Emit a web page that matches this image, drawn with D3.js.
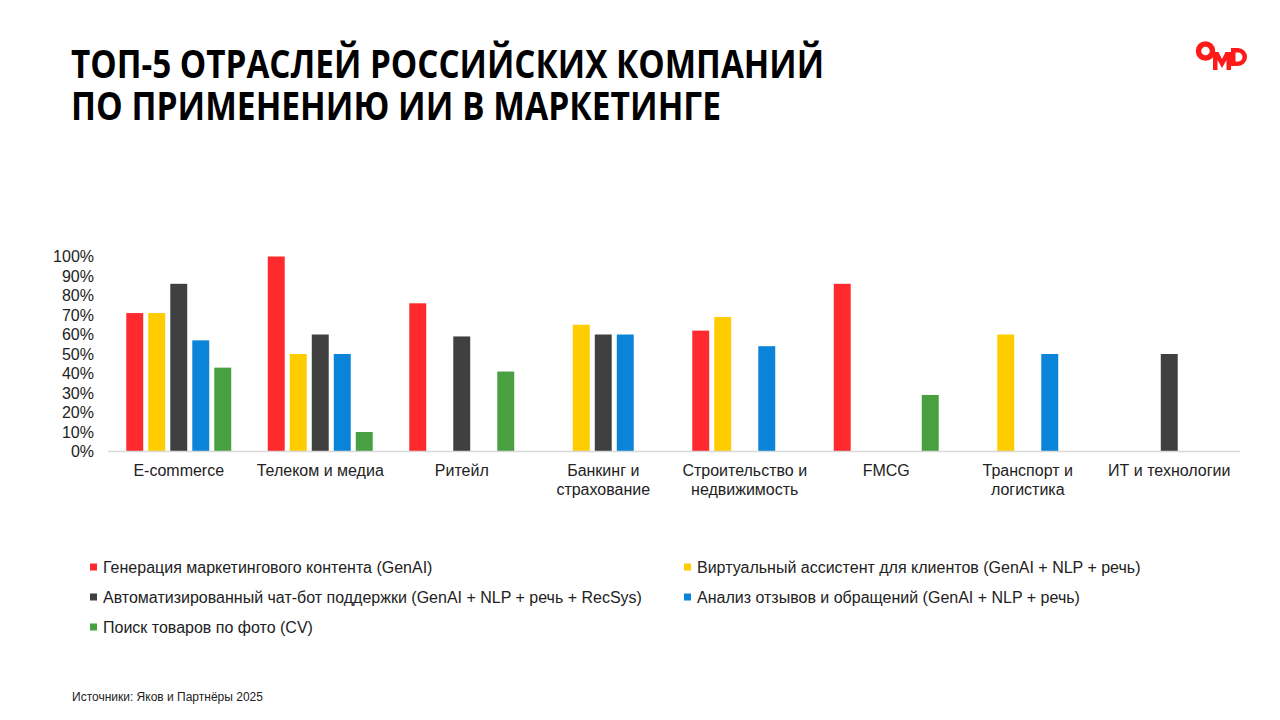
<!DOCTYPE html>
<html>
<head>
<meta charset="utf-8">
<script src="https://cdn.jsdelivr.net/npm/d3@7"></script>
<style>
  body { margin: 0; background: #fff; }
  svg { display: block; font-family: "Liberation Sans", Arial, sans-serif; }
</style>
</head>
<body>
<svg id="chart" width="1280" height="720"></svg>
<script>
var categories = ['E-commerce', 'Телеком и медиа', 'Ритейл', 'Банкинг и|страхование',
    'Строительство и|недвижимость', 'FMCG', 'Транспорт и|логистика', 'ИТ и технологии'];

var seriesNames = [
    'Генерация маркетингового контента (GenAI)',
    'Виртуальный ассистент для клиентов (GenAI + NLP + речь)',
    'Автоматизированный чат-бот поддержки (GenAI + NLP + речь + RecSys)',
    'Анализ отзывов и обращений (GenAI + NLP + речь)',
    'Поиск товаров по фото (CV)'
];
var colors = ['#ff2a2d', '#ffcc00', '#404040', '#0984d8', '#48a040'];

// values in %, null = no bar
var genContent = [71, 100, 76, null, 62, 86, null, null];
var virtAssist = [71, 50, null, 65, 69, null, 60, null];
var chatBot    = [86, 60, 59, 60, null, null, null, 50];
var reviews    = [57, 50, null, 60, 54, null, 50, null];
var photoSearch = [43, 10, 41, null, null, 29, null, null];

var yTicks = [0, 10, 20, 30, 40, 50, 60, 70, 80, 90, 100];

var values = [genContent, virtAssist, chatBot, reviews, photoSearch];

var svg = d3.select('#chart');

// title (one text, two lines)
var title = svg.append('text')
    .attr('font-family', '"Open Sans", "Noto Sans", sans-serif')
    .attr('font-weight', 700)
    .attr('font-size', 40)
    .attr('fill', '#000');
title.append('tspan').attr('x', 71).attr('y', 78)
    .attr('textLength', 753).attr('lengthAdjust', 'spacingAndGlyphs')
    .text('ТОП-5 ОТРАСЛЕЙ РОССИЙСКИХ КОМПАНИЙ');
title.append('tspan').attr('x', 71).attr('y', 120)
    .attr('textLength', 650).attr('lengthAdjust', 'spacingAndGlyphs')
    .text('ПО ПРИМЕНЕНИЮ ИИ В МАРКЕТИНГЕ');

// logo
var logo = svg.append('g').attr('fill', '#ff1a1a');
logo.append('circle').attr('cx', 1205.5).attr('cy', 51).attr('r', 7)
    .attr('fill', 'none').attr('stroke', '#ff1a1a').attr('stroke-width', 5.5);
logo.append('path')
    .attr('d', 'M1213,70V52h5.5l3.5,7l3.5,-7h5.5v18h-4.5v-10l-4.5,8l-4.5,-8v10z');
logo.append('path')
    .attr('fill-rule', 'evenodd')
    .attr('d', 'M1231,48h7a9,9 0 0 1 0,18h-7z M1235.5,52.5v9h2.5a4.5,4.5 0 0 0 0,-9z');

// scales
var x0 = d3.scaleBand().domain(categories).range([108, 1240]);
var x1 = d3.scaleBand().domain(d3.range(seriesNames.length))
    .range([0, x0.bandwidth()])
    .paddingInner(0.23)
    .paddingOuter(0.83);
var y = d3.scaleLinear().domain([0, 100]).range([451.5, 256.5]);

// bars
var groups = svg.append('g').selectAll('g')
    .data(categories)
    .enter().append('g')
    .attr('transform', function (d) { return 'translate(' + x0(d) + ',0)'; });

groups.selectAll('rect')
    .data(function (d, i) {
        return values.map(function (s, k) { return { k: k, v: s[i] }; })
            .filter(function (e) { return e.v != null; });
    })
    .enter().append('rect')
    .attr('x', function (d) { return x1(d.k); })
    .attr('y', function (d) { return y(d.v); })
    .attr('width', x1.bandwidth())
    .attr('height', function (d) { return y(0) - y(d.v); })
    .attr('fill', function (d) { return colors[d.k]; });

// y axis
var yAxis = svg.append('g')
    .attr('transform', 'translate(94,0)')
    .call(d3.axisLeft(y).tickValues(yTicks).tickSize(0).tickPadding(0)
        .tickFormat(function (d) { return d + '%'; }));
yAxis.select('.domain').remove();
yAxis.selectAll('text')
    .attr('font-family', '"Liberation Sans", Arial, sans-serif')
    .attr('font-size', 16)
    .attr('fill', '#222');

// baseline
svg.append('line')
    .attr('x1', 108).attr('x2', 1240)
    .attr('y1', y(0)).attr('y2', y(0))
    .attr('stroke', '#d9d9d9').attr('stroke-width', 1.5);

// category labels
var catLabels = svg.append('g')
    .attr('font-size', 16)
    .attr('fill', '#222')
    .attr('text-anchor', 'middle')
    .selectAll('text')
    .data(categories)
    .enter().append('text')
    .attr('x', function (d) { return x0(d) + x0.bandwidth() / 2; })
    .attr('y', 476);
catLabels.selectAll('tspan')
    .data(function (d) { return d.split('|'); })
    .enter().append('tspan')
    .attr('x', function () { return d3.select(this.parentNode).attr('x'); })
    .attr('dy', function (d, i) { return i ? 18.5 : 0; })
    .text(function (d) { return d; });

// legend
var legendPos = [[90, 567], [684, 567], [90, 597], [684, 597], [90, 627]];
var legend = svg.append('g').selectAll('g')
    .data(seriesNames)
    .enter().append('g')
    .attr('transform', function (d, i) { return 'translate(' + legendPos[i][0] + ',' + legendPos[i][1] + ')'; });
legend.append('rect')
    .attr('x', 0).attr('y', -3.5)
    .attr('width', 7).attr('height', 7)
    .attr('fill', function (d, i) { return colors[i]; });
legend.append('text')
    .attr('x', 13).attr('dy', '0.35em')
    .attr('font-size', 16)
    .attr('fill', '#222')
    .text(function (d) { return d; });

// source
svg.append('text')
    .attr('x', 72).attr('y', 701)
    .attr('font-size', 12)
    .attr('fill', '#222')
    .text('Источники: Яков и Партнёры 2025');
</script>
</body>
</html>
